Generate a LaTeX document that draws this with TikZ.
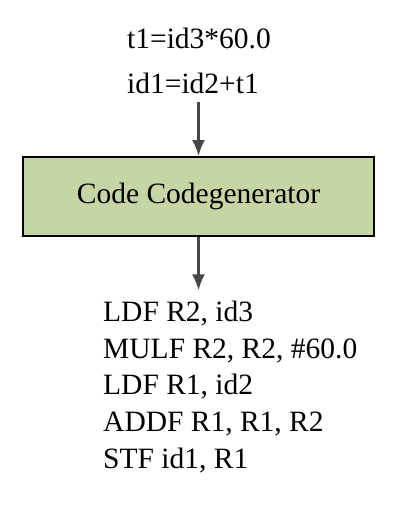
\documentclass[tikz,border=0pt]{standalone}
\usepackage{fontspec}
\setmainfont{Liberation Serif}
\usetikzlibrary{arrows.meta,positioning}

\definecolor{boxgreen}{RGB}{197,213,163}
\definecolor{arrowgray}{RGB}{70,70,70}

\begin{document}
\begin{tikzpicture}[>={Latex[length=16pt,width=13pt]},x=1pt,y=-1pt]

\useasboundingbox (0,0) rectangle (400,522);

\tikzset{
	codeline/.style={anchor=base west,inner sep=0pt,font=\fontsize{29.5}{35}\selectfont},
	genbox/.style={draw=black,line width=2pt,fill=boxgreen,minimum width=351pt,
		minimum height=79pt,font=\fontsize{29.5}{35}\selectfont},
	flow/.style={->,line width=2.2pt,draw=arrowgray,fill=arrowgray}
}

% intermediate code
\node[codeline] (mul) at (127,48) {t1=id3*60.0};
\node[codeline] (add) at (127,93) {id1=id2+t1};

% generator
\node[genbox] (gen) at (198.5,196.5) {Code Codegenerator};

% target code
\node[codeline] (ldf2) at (103,321) {LDF R2, id3};
\node[codeline] (mulf) at (103,358) {MULF R2, R2, \#60.0};
\node[codeline] (ldf1) at (103,394.5) {LDF R1, id2};
\node[codeline] (addf) at (103,431) {ADDF R1, R1, R2};
\node[codeline] (stf) at (103,468) {STF id1, R1};

\draw[flow,shorten <=9pt] (add.south -| gen.north) -- (gen.north);
\draw[flow,shorten >=10pt] (gen.south) -- (gen.south |- ldf2.north);

\end{tikzpicture}
\end{document}
